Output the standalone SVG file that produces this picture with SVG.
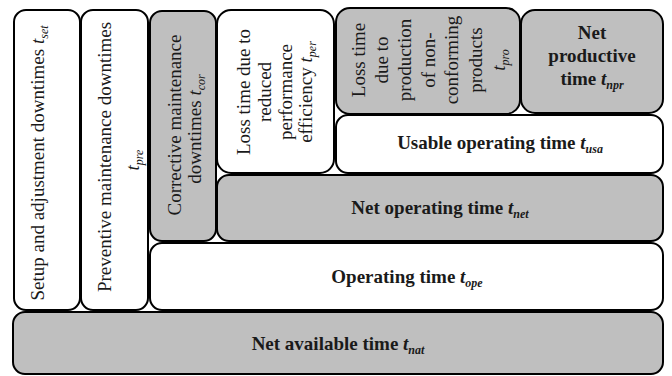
<svg xmlns="http://www.w3.org/2000/svg" width="672" height="376" viewBox="0 0 672 376">
<style>
.w{fill:#ffffff;stroke:#000;stroke-width:2}
.g{fill:#bfbfbf;stroke:#000;stroke-width:2}
.t{font-family:"Liberation Serif","Times New Roman",serif;font-size:19px;fill:#1a1a1a;text-anchor:middle}
.b{font-weight:bold}
.i{font-style:italic}
.s{font-size:12px;font-style:italic}
</style>
<rect width="672" height="376" fill="#fff"/>
<g id="setup">
<rect class="w" x="14" y="10" width="66" height="300" rx="12"/>
<text class="t" transform="rotate(-90)" x="-163" y="44">Setup and adjustment downtimes <tspan class="i">t</tspan><tspan class="s" dy="4">set</tspan></text>
</g>
<g id="preventive">
<rect class="w" x="81" y="10" width="67" height="300" rx="12"/>
<text class="t" transform="rotate(-90)" x="-157" y="111">Preventive maintenance downtimes</text>
<text class="t" transform="rotate(-90)" x="-160" y="139"><tspan class="i">t</tspan><tspan class="s" dy="4">pre</tspan></text>
</g>
<g id="corrective">
<rect class="g" x="150" y="11" width="66" height="230" rx="12"/>
<text class="t" transform="rotate(-90)" x="-125" y="181">Corrective maintenance</text>
<text class="t" transform="rotate(-90)" x="-129" y="201">downtimes <tspan class="i">t</tspan><tspan class="s" dy="4">cor</tspan></text>
</g>
<g id="performance">
<rect class="w" x="217" y="10" width="117" height="163" rx="14"/>
<text class="t" transform="rotate(-90)" x="-92" y="250">Loss time due to</text>
<text class="t" transform="rotate(-90)" x="-92" y="271">reduced</text>
<text class="t" transform="rotate(-90)" x="-92" y="292">performance</text>
<text class="t" transform="rotate(-90)" x="-92" y="312">efficiency <tspan class="i">t</tspan><tspan class="s" dy="4">per</tspan></text>
</g>
<g id="nonconforming">
<rect class="g" x="336" y="8" width="184" height="106" rx="14"/>
<text class="t" transform="rotate(-90)" x="-60" y="365">Loss time</text>
<text class="t" transform="rotate(-90)" x="-60" y="388">due to</text>
<text class="t" transform="rotate(-90)" x="-60" y="411">production</text>
<text class="t" transform="rotate(-90)" x="-60" y="435">of non-</text>
<text class="t" transform="rotate(-90)" x="-60" y="458">conforming</text>
<text class="t" transform="rotate(-90)" x="-60" y="482">products</text>
<text class="t" transform="rotate(-90)" x="-60" y="505"><tspan class="i">t</tspan><tspan class="s" dy="4">pro</tspan></text>
</g>
<g id="netproductive">
<rect class="g" x="521" y="10" width="142" height="103" rx="14"/>
<text class="t b" x="592" y="39">Net</text>
<text class="t b" x="592" y="62">productive</text>
<text class="t b" x="592" y="85">time <tspan class="i">t</tspan><tspan class="s" dy="4">npr</tspan></text>
</g>
<g id="usable">
<rect class="w" x="336" y="115" width="327" height="58" rx="12"/>
<text class="t b" x="500" y="149">Usable operating time <tspan class="i">t</tspan><tspan class="s" dy="4">usa</tspan></text>
</g>
<g id="netoperating">
<rect class="g" x="217" y="175" width="446" height="66" rx="12"/>
<text class="t b" x="440" y="214">Net operating time <tspan class="i">t</tspan><tspan class="s" dy="4">net</tspan></text>
</g>
<g id="operating">
<rect class="w" x="150" y="243" width="513" height="67" rx="12"/>
<text class="t b" x="407" y="283">Operating time <tspan class="i">t</tspan><tspan class="s" dy="4">ope</tspan></text>
</g>
<g id="netavailable">
<rect class="g" x="13" y="312" width="650" height="62" rx="12"/>
<text class="t b" x="338" y="350">Net available time <tspan class="i">t</tspan><tspan class="s" dy="4">nat</tspan></text>
</g>
<g id="connectors"/>
</svg>
